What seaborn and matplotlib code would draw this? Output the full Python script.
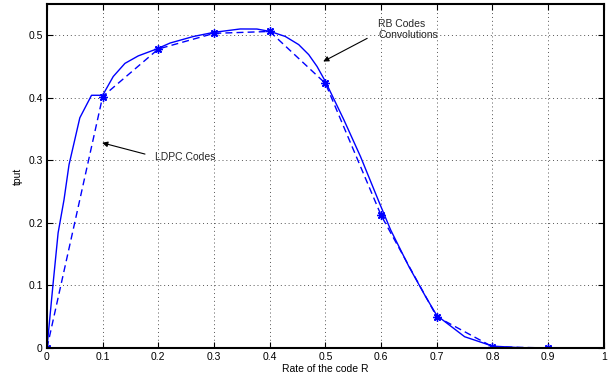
import matplotlib
matplotlib.use("Agg")
import matplotlib.pyplot as plt
import seaborn as sns

# Solid curve (smooth)
rate_solid = [0.0, 0.011, 0.02, 0.0306, 0.0396, 0.059, 0.08, 0.095, 0.10, 0.119, 0.14, 0.164, 0.197,
              0.221, 0.263, 0.299, 0.347, 0.377, 0.401, 0.428, 0.452, 0.47, 0.485, 0.50, 0.533, 0.563,
              0.596, 0.617, 0.65, 0.68, 0.70, 0.75, 0.80, 0.85, 0.90]
tput_solid = [0.0, 0.103, 0.184, 0.237, 0.293, 0.368, 0.404, 0.404, 0.404, 0.434, 0.455, 0.467, 0.478,
              0.4875, 0.498, 0.5045, 0.510, 0.5099, 0.506, 0.498, 0.485, 0.469, 0.450, 0.426, 0.365, 0.306,
              0.234, 0.189, 0.130, 0.082, 0.052, 0.018, 0.003, 0.0005, 0.0]

# Dashed curve with star markers
rate_marks = [0.0, 0.1, 0.2, 0.3, 0.4, 0.5, 0.6, 0.7, 0.8, 0.9]
tput_marks = [0.0, 0.402, 0.478, 0.503, 0.506, 0.423, 0.212, 0.05, 0.002, 0.0]

x_ticks = [0, 0.1, 0.2, 0.3, 0.4, 0.5, 0.6, 0.7, 0.8, 0.9, 1]
x_labels = ["0", "0.1", "0.2", "0.3", "0.4", "0.5", "0.6", "0.7", "0.8", "0.9", "1"]
y_ticks = [0, 0.1, 0.2, 0.3, 0.4, 0.5]
y_labels = ["0", "0.1", "0.2", "0.3", "0.4", "0.5"]

sns.set_theme(style="white")
plt.rcParams['font.family'] = ['Liberation Sans', 'DejaVu Sans']

fig = plt.figure(figsize=(6.14, 3.76), dpi=100)
ax = fig.add_axes([0.0765, 0.0745, 0.907, 0.915])

blue = "#0000ff"
sns.lineplot(x=rate_solid, y=tput_solid, ax=ax, color=blue, linewidth=1.0, linestyle="-")
sns.lineplot(x=rate_marks, y=tput_marks, ax=ax, color=blue, linewidth=1.0, linestyle=(0, (5, 3)),
             marker=(8, 2, 0), markersize=6, markeredgecolor=blue, markerfacecolor=blue,
             markeredgewidth=1.0)

ax.set_xlim(0, 1)
ax.set_ylim(0, 0.55)
ax.set_xticks(x_ticks)
ax.set_xticklabels(x_labels)
ax.set_yticks(y_ticks)
ax.set_yticklabels(y_labels)
ax.tick_params(direction="in", length=4, width=0.8, top=True, right=True,
               labelsize=7.5, colors="black", pad=3,
               bottom=True, left=True)
for s in ax.spines.values():
    s.set_visible(True)
    s.set_color("black")
    s.set_linewidth(1.5)
ax.grid(True, linestyle=(0, (1, 3)), color="#555555", linewidth=0.7)
ax.set_axisbelow(True)

ax.set_xlabel("Rate of the code R", fontsize=7.5, labelpad=1, color="black")
ax.set_ylabel("tput", fontsize=7.5, labelpad=4, color="black")

arrow = dict(arrowstyle="-|>", color="black", lw=0.8, shrinkA=0, shrinkB=0, mutation_scale=8)
ax.text(0.194, 0.306, "LDPC Codes", fontsize=7.5, va="center", ha="left")
ax.annotate("", xy=(0.099, 0.328), xytext=(0.176, 0.310), arrowprops=arrow)
ax.text(0.595, 0.509, "RB Codes\nConvolutions", fontsize=7.5, va="center", ha="left", linespacing=1.1)
ax.annotate("", xy=(0.496, 0.458), xytext=(0.575, 0.495), arrowprops=arrow)

fig.savefig("out.png", dpi=100)
